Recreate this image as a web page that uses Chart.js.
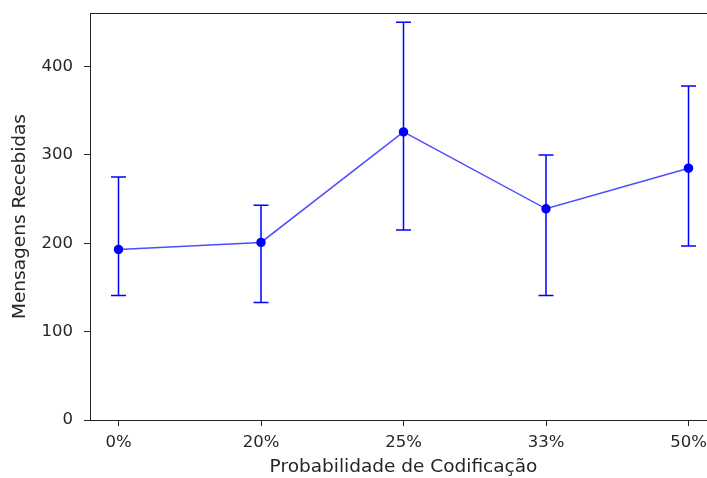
<!DOCTYPE html>
<html>
<head>
<meta charset="utf-8">
<script src="https://cdn.jsdelivr.net/npm/chart.js@4"></script>
<style>
  html, body { margin: 0; padding: 0; background: #fff; overflow: hidden; }
  canvas { display: block; }
</style>
</head>
<body>
<canvas id="myChart" width="730" height="478"></canvas>
<script>
const categorias = ['0%', '20%', '25%', '33%', '50%'];
const mensagens = [193, 201, 326, 239, 285];
const erroInferior = [141, 133, 215, 141, 197];
const erroSuperior = [275, 243, 450, 300, 378];
const ticksY = [0, 100, 200, 300, 400];

const azul = '#0000ff';
const ctx = document.getElementById('myChart');

// barras de erro e moldura de cima/direita
const barrasErro = {
  id: 'barrasErro',
  beforeDatasetsDraw(chart) {
    const c = chart.ctx;
    const x = chart.scales.x, y = chart.scales.y;
    c.save();
    c.strokeStyle = azul;
    c.lineWidth = 1.5;
    mensagens.forEach((v, i) => {
      const px = x.getPixelForValue(i);
      const top = y.getPixelForValue(erroSuperior[i]);
      const bot = y.getPixelForValue(erroInferior[i]);
      c.beginPath();
      c.moveTo(px, top); c.lineTo(px, bot);
      c.moveTo(px - 7.5, top); c.lineTo(px + 7.5, top);
      c.moveTo(px - 7.5, bot); c.lineTo(px + 7.5, bot);
      c.stroke();
    });
    c.restore();
  },
  afterDraw(chart) {
    const a = chart.chartArea, c = chart.ctx;
    c.save();
    c.strokeStyle = '#222';
    c.lineWidth = 1;
    c.strokeRect(a.left + 0.5, a.top + 0.5, a.right - a.left, a.bottom - a.top);
    c.restore();
  }
};

new Chart(ctx, {
  type: 'line',
  data: {
    datasets: [{
      data: mensagens.map((v, i) => ({ x: i, y: v })),
      borderColor: 'rgba(0,0,255,0.7)',
      borderWidth: 1.5,
      pointRadius: 4,
      pointBackgroundColor: azul,
      pointBorderColor: azul,
      tension: 0
    }]
  },
  options: {
    responsive: false,
    animation: false,
    layout: { padding: { top: 13, right: 13, left: 0, bottom: 0 } },
    plugins: { legend: { display: false }, tooltip: { enabled: false } },
    scales: {
      x: {
        type: 'linear',
        min: -0.2,
        max: 4.2,
        afterBuildTicks: (s) => { s.ticks = categorias.map((c, i) => ({ value: i })); },
        afterFit: (s) => { s.height = 58; s.paddingLeft = 0; s.paddingRight = 0; },
        grid: { drawOnChartArea: false, drawTicks: true, tickLength: 6, color: '#222' },
        border: { display: true, color: '#222' },
        ticks: {
          callback: (v) => categorias[v],
          color: '#262626',
          font: { family: 'DejaVu Sans', size: 16.5 },
          padding: 7,
          maxRotation: 0
        },
        title: {
          display: true,
          text: 'Probabilidade de Codificação',
          color: '#262626',
          font: { family: 'DejaVu Sans', size: 18.5 },
          padding: { top: 0, bottom: 0 }
        }
      },
      y: {
        min: 0,
        max: 460.6,
        afterBuildTicks: (s) => { s.ticks = ticksY.map(v => ({ value: v })); },
        afterFit: (s) => { s.width = 90; s.paddingTop = 0; s.paddingBottom = 0; },
        grid: { drawOnChartArea: false, drawTicks: true, tickLength: 6, color: '#222' },
        border: { display: true, color: '#222' },
        ticks: {
          color: '#262626',
          font: { family: 'DejaVu Sans', size: 16.5 },
          padding: 11
        },
        title: {
          display: true,
          text: 'Mensagens Recebidas',
          color: '#262626',
          font: { family: 'DejaVu Sans', size: 18.5 },
          padding: { top: 9, bottom: 0 }
        }
      }
    }
  },
  plugins: [barrasErro]
});
</script>
</body>
</html>
